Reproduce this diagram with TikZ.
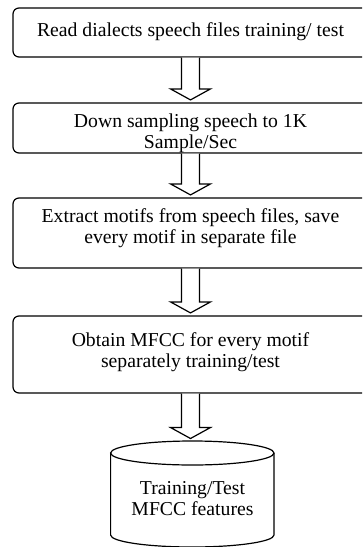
\documentclass[tikz,border=0pt]{standalone}
\usepackage{fontspec}
\setmainfont{Liberation Serif}
\usetikzlibrary{calc}
\tikzset{
  stepbox/.style={draw, line width=1.2pt, rounded corners=6pt, minimum width=355pt, inner sep=0pt},
  steptext/.style={align=center, inner sep=0pt, font=\fontsize{19.7pt}{21pt}\selectfont},
  blockline/.style={draw, line width=1.2pt, fill=white, line join=miter},
  dbline/.style={draw, line width=1.2pt},
}
% hollow block arrow from the bottom of one shape to the top of the next
\newcommand\blockarrow[2]{%
  \path let \p1=(#1.south), \p2=(#2.north) in
    [blockline] (\x1-9pt,\y1) -- (\x1-9pt,\y2+13.5pt) -- (\x1-20pt,\y2+13.5pt)
    -- (\x1,\y2+2.5pt) -- (\x1+20pt,\y2+13.5pt) -- (\x1+9pt,\y2+13.5pt) -- (\x1+9pt,\y1);}
\begin{document}
\begin{tikzpicture}[x=1pt,y=1pt]
\useasboundingbox (0,0) rectangle (362,-547);
\clip (0,0) rectangle (362,-547);
\fill[white] (0,0) rectangle (362,-547);

% process steps
\node[stepbox, minimum height=49pt] (b1) at (190.5,-32.5) {};
\node[stepbox, minimum height=50pt] (b2) at (190.5,-128) {};
\node[stepbox, minimum height=70pt] (b3) at (190.5,-233) {};
\node[stepbox, minimum height=77pt] (b4) at (190.5,-354.5) {};

\node[steptext] (t1) at (190.5,-32) {Read dialects speech files training/ test};
\node[steptext] (t2) at (190.5,-133) {Down sampling speech to 1K\\Sample/Sec};
\node[steptext] (t3) at (190.5,-228) {Extract motifs from speech files, save\\every motif in separate file};
\node[steptext] (t4) at (190.5,-352.5) {Obtain MFCC for every motif\\separately training/test};

% feature store drawn as a cylinder
\node[minimum width=163.4pt, minimum height=106pt, inner sep=0pt, anchor=north] (db) at (192.3,-441) {};
\draw[dbline] (192.3,-453) ellipse [x radius=81.7, y radius=12];
\draw[dbline] (110.6,-453) -- (110.6,-535)
  arc[start angle=180, end angle=360, x radius=81.7, y radius=12] -- (274,-453);
\node[steptext] (t5) at (192.5,-499) {Training/Test\\MFCC features};

% connectors
\blockarrow{b1}{b2}
\blockarrow{b2}{b3}
\blockarrow{b3}{b4}
\blockarrow{b4}{db}
\end{tikzpicture}
\end{document}
